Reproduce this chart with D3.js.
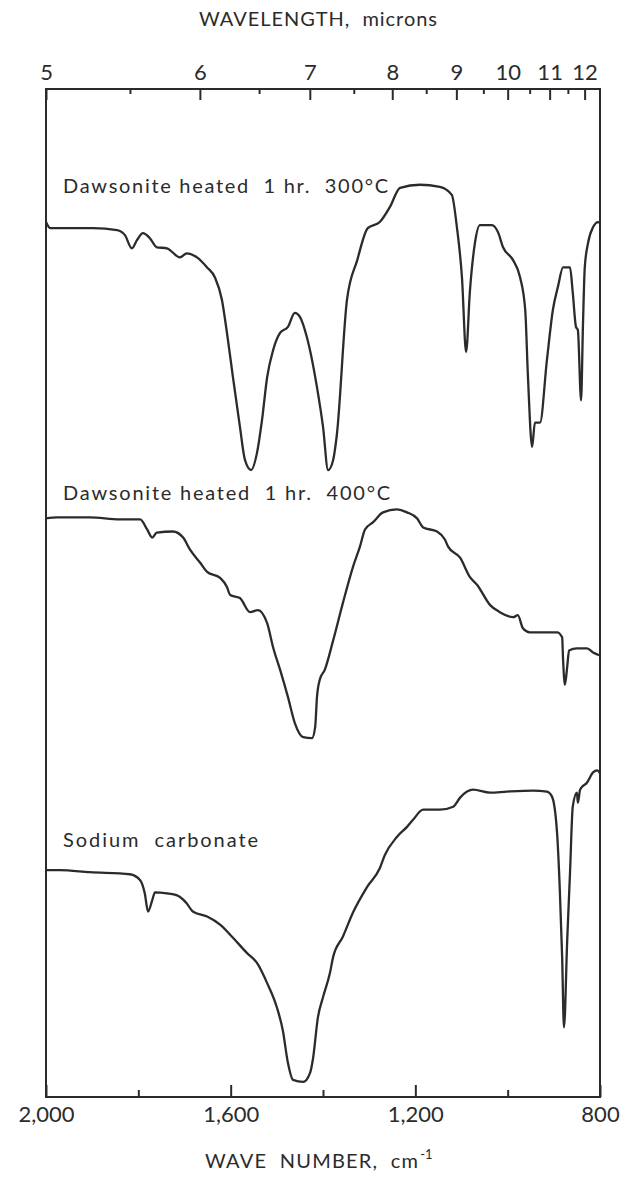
<!DOCTYPE html>
<html>
<head>
<meta charset="utf-8">
<script src="https://cdn.jsdelivr.net/npm/d3@7"></script>
<style>
  body { margin: 0; background: #fff; }
  text { font-family: Lato, "DejaVu Sans", sans-serif; fill: #2b2b2b; white-space: pre; }
</style>
</head>
<body>
<div id="chart"></div>
<script>
// wave numbers (cm-1) and relative transmittance (offset per spectrum, arbitrary units)
const wn300 = [2000, 1991, 1942, 1898, 1846, 1829, 1814, 1803, 1790, 1775, 1760, 1738, 1710, 1695, 1673, 1651, 1634, 1619, 1608, 1595,
  1580, 1569, 1556, 1543, 1532, 1521, 1508, 1493, 1476, 1461, 1450, 1435, 1413, 1400, 1389, 1378, 1370, 1348, 1326, 1303,
  1277, 1255, 1233, 1190, 1147, 1121, 1110, 1099, 1090, 1082, 1071, 1060, 1034, 1021, 1010, 988, 973, 962, 956, 947,
  941, 930, 915, 902, 891, 880, 865, 859, 852, 848, 841, 837, 833, 826, 815, 804, 800];
const tr300 = [86.8, 86.2, 86.2, 86.2, 86.0, 85.5, 84.2, 85.0, 85.7, 85.2, 84.3, 84.2, 83.3, 83.7, 83.3, 82.3, 81.3, 79.1, 75.8, 71.4,
  66.5, 63.2, 62.2, 63.9, 67.2, 71.4, 74.1, 75.8, 76.4, 77.8, 77.4, 75.4, 70.4, 66.5, 62.2, 63.2, 65.7, 79.1, 83.0, 86.2,
  86.8, 88.3, 90.2, 90.5, 90.3, 89.5, 86.3, 81.3, 73.9, 79.8, 84.7, 86.5, 86.5, 85.8, 84.3, 83.0, 81.3, 78.1, 71.4, 64.5,
  66.9, 66.9, 73.1, 78.1, 80.4, 82.3, 82.3, 79.8, 76.4, 76.1, 69.1, 76.4, 82.3, 84.7, 86.3, 86.8, 86.7];

const wn400 = [2000, 1976, 1905, 1840, 1796, 1781, 1770, 1760, 1725, 1703, 1688, 1666, 1651, 1623, 1608, 1601, 1580, 1558, 1541, 1521,
  1508, 1493, 1476, 1461, 1443, 1424, 1417, 1413, 1407, 1396, 1378, 1357, 1335, 1320, 1309, 1292, 1270, 1240, 1218, 1196,
  1183, 1153, 1136, 1129, 1103, 1082, 1066, 1038, 1017, 988, 978, 967, 952, 930, 893, 882, 880, 876, 871, 867,
  850, 828, 815, 800];
const tr400 = [57.4, 57.5, 57.5, 57.3, 57.3, 56.3, 55.5, 56.0, 56.1, 55.5, 54.3, 53.0, 52.1, 51.5, 50.6, 49.8, 49.5, 48.1, 48.3, 47.0,
  44.6, 42.4, 39.7, 37.1, 35.7, 35.6, 36.7, 39.7, 41.4, 42.4, 45.3, 49.0, 52.6, 54.6, 56.3, 57.0, 58.0, 58.3, 58.0, 57.4,
  56.5, 56.1, 55.3, 54.6, 53.5, 51.6, 50.8, 48.8, 48.1, 47.6, 47.8, 46.5, 46.1, 46.1, 46.1, 45.6, 43.4, 40.9, 42.7, 44.3,
  44.5, 44.5, 44.1, 43.8];

const wnNa = [2000, 1970, 1905, 1818, 1796, 1786, 1779, 1770, 1764, 1738, 1716, 1695, 1682, 1651, 1623, 1595, 1565, 1543, 1521, 1500,
  1487, 1476, 1465, 1443, 1428, 1422, 1411, 1400, 1385, 1378, 1357, 1335, 1305, 1277, 1266, 1240, 1218, 1205, 1183, 1147,
  1118, 1103, 1088, 1075, 1038, 1002, 945, 915, 904, 893, 887, 882, 878, 871, 865, 859, 850, 848, 843, 828,
  815, 806, 800];
const trNa = [22.5, 22.5, 22.3, 22.1, 21.5, 20.2, 18.4, 19.5, 20.3, 20.2, 20.0, 19.2, 18.4, 17.9, 17.1, 15.8, 14.3, 13.3, 11.3, 8.9,
  6.6, 3.4, 1.7, 1.5, 2.4, 3.7, 7.9, 9.9, 12.3, 13.9, 15.9, 18.3, 20.8, 22.7, 24.0, 25.8, 26.8, 27.5, 28.5, 28.5,
  28.8, 29.7, 30.3, 30.5, 30.2, 30.3, 30.4, 30.3, 29.8, 26.2, 20.5, 13.9, 6.9, 15.6, 22.2, 28.8, 30.2, 29.2, 30.5, 31.2,
  32.2, 32.4, 32.1];

const spectraNames = ["Dawsonite heated  1 hr.  300°C", "Dawsonite heated  1 hr.  400°C", "Sodium  carbonate"];

const wnMajor = [2000, 1600, 1200, 800];
const wnMinor = [1800, 1400, 1000];
const umMajor = [5, 6, 7, 8, 9, 10, 11, 12];
const umMinor = [5.5, 6.5, 7.5, 8.5, 9.5, 10.5, 11.5];

const width = 636, height = 1178;
const margin = { top: 89, right: 36, bottom: 81, left: 46 };

const svg = d3.select("#chart").append("svg")
  .attr("width", width)
  .attr("height", height);

const x = d3.scaleLinear().domain([2000, 800]).range([margin.left, width - margin.right]);
const y = d3.scaleLinear().domain([0, 100]).range([height - margin.bottom, margin.top]);

const line = d3.line()
  .x(d => x(d[0]))
  .y(d => y(d[1]))
  .curve(d3.curveMonotoneX);

const series = [
  d3.zip(wn300, tr300),
  d3.zip(wn400, tr400),
  d3.zip(wnNa, trNa)
];

svg.append("g")
  .selectAll("path")
  .data(series)
  .join("path")
  .attr("d", line)
  .attr("fill", "none")
  .attr("stroke", "#2b2b2b")
  .attr("stroke-width", 2.3)
  .attr("stroke-linejoin", "round");

// frame
svg.append("rect")
  .attr("x", x(2000))
  .attr("y", y(100))
  .attr("width", x(800) - x(2000))
  .attr("height", y(0) - y(100))
  .attr("fill", "none")
  .attr("stroke", "#2b2b2b")
  .attr("stroke-width", 2);

const styleAxis = g => {
  g.select(".domain").remove();
  g.selectAll("line").attr("stroke", "#2b2b2b").attr("stroke-width", 2);
  g.selectAll("text").attr("font-size", 22).attr("fill", "#2b2b2b")
    .attr("font-family", "Lato, 'DejaVu Sans', sans-serif");
};

// bottom axis: wave number, ticks point inside
svg.append("g")
  .attr("transform", `translate(0,${y(0)})`)
  .call(d3.axisBottom(x).tickValues(wnMajor).tickSize(-12).tickPadding(9)
    .tickFormat(d3.format(",")))
  .call(styleAxis);

svg.append("g")
  .attr("transform", `translate(0,${y(0)})`)
  .call(d3.axisBottom(x).tickValues(wnMinor).tickSize(-7).tickFormat(""))
  .call(styleAxis);

// top axis: wavelength in microns
svg.append("g")
  .attr("transform", `translate(0,${y(100)})`)
  .call(d3.axisTop(x).tickValues(umMajor.map(l => 10000 / l)).tickSize(-11).tickPadding(9)
    .tickFormat(d => Math.round(10000 / d)))
  .call(styleAxis);

svg.append("g")
  .attr("transform", `translate(0,${y(100)})`)
  .call(d3.axisTop(x).tickValues(umMinor.map(l => 10000 / l)).tickSize(-5).tickFormat(""))
  .call(styleAxis);

// titles
svg.append("text")
  .attr("x", 199)
  .attr("y", 26)
  .attr("font-size", 20)
  .attr("textLength", 238)
  .attr("lengthAdjust", "spacing")
  .text("WAVELENGTH,  microns");

const xt = svg.append("text")
  .attr("x", 205)
  .attr("y", 1168);
xt.append("tspan")
  .attr("font-size", 20)
  .attr("textLength", 213)
  .attr("lengthAdjust", "spacing")
  .text("WAVE  NUMBER,  cm");
xt.append("tspan").attr("dy", -9).attr("dx", 1).attr("font-size", 13).text("-1");

// spectrum labels
const labelPos = [[1963, 89.7, 325], [1963, 59.2, 327], [1963, 24.8, 195]];
svg.append("g")
  .selectAll("text")
  .data(spectraNames)
  .join("text")
  .attr("x", (d, i) => x(labelPos[i][0]))
  .attr("y", (d, i) => y(labelPos[i][1]))
  .attr("font-size", 20)
  .attr("textLength", (d, i) => labelPos[i][2])
  .attr("lengthAdjust", "spacing")
  .text(d => d);
</script>
</body>
</html>
